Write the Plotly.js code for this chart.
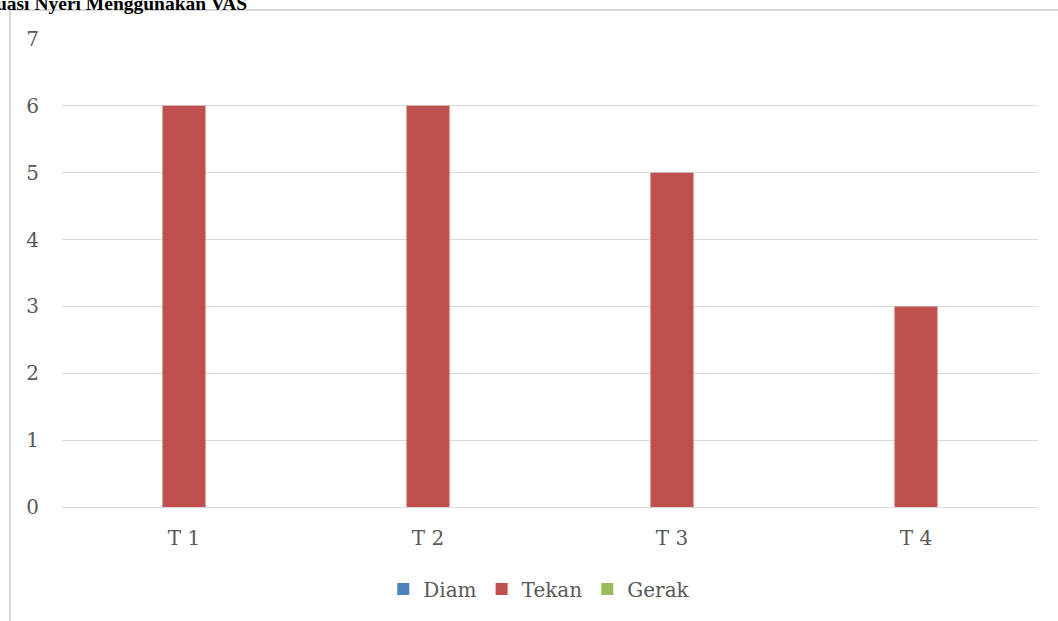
<!DOCTYPE html>
<html>
<head>
<meta charset="utf-8">
<script src="https://cdn.plot.ly/plotly-3.0.1.min.js"></script>
<style>html,body{margin:0;padding:0;background:#fff;}#chart{width:1058px;height:621px;}</style>
</head>
<body>
<div id="chart"></div>
<script>
const categories = ["T 1", "T 2", "T 3", "T 4"];
const seriesNames = ["Diam", "Tekan", "Gerak"];
const diam = [0, 0, 0, 0];
const tekan = [6, 6, 5, 3];
const gerak = [0, 0, 0, 0];
const yTicks = [0, 1, 2, 3, 4, 5, 6, 7];
const titleText = "Evaluasi Nyeri Menggunakan VAS";

const colors = ["#4F81BD", "#C0504D", "#9BBB59"];
const values = [diam, tekan, gerak];
const font = "'DejaVu Serif', 'Liberation Serif', serif";

const traces = seriesNames.map((n, i) => ({
  type: "bar",
  name: n,
  x: categories,
  y: values[i],
  marker: {color: colors[i]},
  hoverinfo: "none"
}));

const L = 62, R = 20, T = 39, B = 114;
const W = 1058 - L - R, H = 621 - T - B;
const px = v => (v - L) / W;
const py = v => (621 - B - v) / H;

const layout = {
  width: 1058, height: 621,
  margin: {l: L, r: R, t: T, b: B, pad: 0},
  paper_bgcolor: "#fff", plot_bgcolor: "#fff",
  barmode: "group",
  bargap: 0.471,
  bargroupgap: 0,
  showlegend: true,
  legend: {
    orientation: "h", x: 0.489, xanchor: "center", y: py(589), yanchor: "middle",
    font: {family: font, size: 20, color: "#595959"},
    itemwidth: 30, traceorder: "normal"
  },
  xaxis: {
    type: "category",
    showgrid: false, zeroline: false,
    showline: true, linecolor: "#d9d9d9", linewidth: 1,
    ticks: "outside", ticklen: 13, tickcolor: "rgba(0,0,0,0)",
    tickfont: {family: font, size: 20, color: "#595959"}
  },
  yaxis: {
    range: [0, 7], tickvals: yTicks, ticktext: yTicks.map(String),
    showgrid: true, gridcolor: "#d9d9d9", gridwidth: 1,
    zeroline: false, showline: false,
    ticks: "outside", ticklen: 18, tickcolor: "rgba(0,0,0,0)",
    tickfont: {family: font, size: 20, color: "#595959"}
  },
  shapes: [{
    type: "rect", xref: "paper", yref: "paper",
    x0: px(10), x1: px(1200), y0: py(800), y1: py(10),
    line: {color: "#d9d9d9", width: 2}, fillcolor: "rgba(0,0,0,0)", layer: "below"
  }],
  annotations: [{
    xref: "paper", yref: "paper", x: px(249), y: py(3),
    xanchor: "right", yanchor: "middle", showarrow: false,
    text: "<b>" + titleText + "</b>",
    font: {family: "'Liberation Serif', 'Times New Roman', serif", size: 19.5, color: "#000"}
  }]
};

Plotly.newPlot("chart", traces, layout, {displayModeBar: false, staticPlot: true});
</script>
</body>
</html>
